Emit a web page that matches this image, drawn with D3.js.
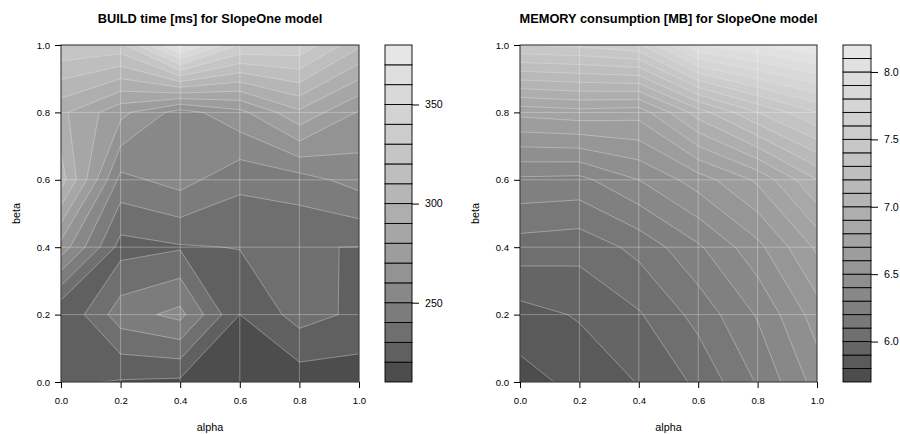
<!DOCTYPE html>
<html><head><meta charset="utf-8">
<script src="https://cdn.jsdelivr.net/npm/d3@7"></script>
<style>
body{margin:0;background:#fff}
svg{display:block}
text{font-family:"Liberation Sans",Arial,Helvetica,sans-serif;fill:#000}
</style>
</head><body>
<svg id="chart" width="900" height="434"></svg>
<script>
// ---- data ----
const alphaVals = [0, 0.2, 0.4, 0.6, 0.8, 1.0];
const betaVals  = [0, 0.2, 0.4, 0.6, 0.8, 1.0];
const axisTicks = [0, 0.2, 0.4, 0.6, 0.8, 1.0];

// BUILD time [ms]; one row per beta (0 -> 1), columns alpha (0 -> 1)
const buildRow0 = [222.0, 219.1, 218.0, 213.0, 214.1, 214.4];
const buildRow1 = [220.2, 245.4, 253.0, 220.0, 234.1, 227.8];
const buildRow2 = [266.0, 226.2, 229.0, 230.4, 230.4, 229.8];
const buildRow3 = [305.0, 247.0, 254.0, 242.7, 245.8, 254.0];
const buildRow4 = [292.4, 273.0, 255.6, 267.0, 288.0, 269.0];
const buildRow5 = [328.6, 327.0, 375.0, 340.0, 338.0, 312.0];
const buildLevels = [210,220,230,240,250,260,270,280,290,300,310,320,330,340,350,360,370,380];
const buildTicks = [250, 300, 350];

// MEMORY consumption [MB]
const memRow0 = [5.76, 5.83, 5.905, 6.02, 6.21, 6.44];
const memRow1 = [5.86, 5.91, 5.99, 6.135, 6.31, 6.55];
const memRow2 = [6.054, 6.035, 6.13, 6.284, 6.47, 6.72];
const memRow3 = [6.28, 6.27, 6.40, 6.55, 6.72, 7.0];
const memRow4 = [6.73, 6.76, 6.74, 7.05, 7.3, 7.5];
const memRow5 = [7.5, 7.52, 7.58, 8.0, 8.1, 8.2];
const memLevels = [5.7,5.8,5.9,6.0,6.1,6.2,6.3,6.4,6.5,6.6,6.7,6.8,6.9,7.0,7.1,7.2,7.3,7.4,7.5,7.6,7.7,7.8,7.9,8.0,8.1,8.2];
const memTicks = [6.0, 6.5, 7.0, 7.5, 8.0];

// R's gray.colors(n, start=0.3, end=0.9, gamma=2.2)
function grayColors(n){
  const s = Math.pow(0.3, 2.2), e = Math.pow(0.9, 2.2);
  return d3.range(n).map(i => {
    const g = Math.round(255 * Math.pow(s + (e - s) * i / (n - 1), 1 / 2.2));
    return d3.rgb(g, g, g).formatHex();
  });
}

const svg = d3.select("#chart");

function panel(cfg){
  const {x0, x1, y0, y1, rows, levels, cbTicks, cbx0, cbx1, title, cbFmt, id} = cfg;
  const n = alphaVals.length, m = betaVals.length;
  const xS = d3.scaleLinear().domain([0, 1]).range([x0, x1]);
  const yS = d3.scaleLinear().domain([0, 1]).range([y1, y0]);
  const gridX = d3.scaleLinear().domain([0.5, n - 0.5]).range([xS(alphaVals[0]), xS(alphaVals[n - 1])]);
  const gridY = d3.scaleLinear().domain([0.5, m - 0.5]).range([yS(betaVals[0]), yS(betaVals[m - 1])]);
  const flat = [];
  rows.forEach(r => r.forEach(v => flat.push(v)));
  const cols = grayColors(levels.length - 1);
  const conts = d3.contours().size([n, m]).thresholds(levels.slice(0, -1))(flat);
  const proj = d3.geoTransform({point(x, y){ this.stream.point(gridX(x), gridY(y)); }});
  const path = d3.geoPath(proj);

  svg.append("clipPath").attr("id", id).append("rect")
    .attr("x", x0).attr("y", y0).attr("width", x1 - x0).attr("height", y1 - y0);
  const g = svg.append("g").attr("clip-path", `url(#${id})`);
  g.append("rect").attr("x", x0).attr("y", y0).attr("width", x1 - x0).attr("height", y1 - y0).attr("fill", cols[0]);
  g.selectAll("path.fill").data(conts).join("path").attr("class", "fill")
    .attr("d", path).attr("fill", (d, i) => cols[i]).attr("fill-rule", "evenodd").attr("stroke", "none");
  // grid
  g.selectAll("line.gx").data(axisTicks).join("line").attr("class", "gx")
    .attr("x1", d => xS(d)).attr("x2", d => xS(d)).attr("y1", y0).attr("y2", y1)
    .attr("stroke", "#ffffff").attr("stroke-opacity", 0.3).attr("stroke-width", 1);
  g.selectAll("line.gy").data(axisTicks).join("line").attr("class", "gy")
    .attr("y1", d => yS(d)).attr("y2", d => yS(d)).attr("x1", x0).attr("x2", x1)
    .attr("stroke", "#ffffff").attr("stroke-opacity", 0.3).attr("stroke-width", 1);
  // contour lines
  g.selectAll("path.line").data(conts.slice(1)).join("path").attr("class", "line")
    .attr("d", path).attr("fill", "none").attr("stroke", "#e8e8e8").attr("stroke-opacity", 0.55).attr("stroke-width", 0.7);

  // frame
  svg.append("rect").attr("x", x0).attr("y", y0).attr("width", x1 - x0).attr("height", y1 - y0)
    .attr("fill", "none").attr("stroke", "#222").attr("stroke-width", 1);

  // axes
  const fmt = d3.format(".1f");
  const ax = svg.append("g").attr("transform", `translate(0,${y1})`)
    .call(d3.axisBottom(xS).tickValues(axisTicks).tickFormat(fmt).tickSize(6).tickPadding(9));
  const ay = svg.append("g").attr("transform", `translate(${x0},0)`)
    .call(d3.axisLeft(yS).tickValues(axisTicks).tickFormat(fmt).tickSize(6).tickPadding(5));
  [ax, ay].forEach(a => {
    a.select(".domain").remove();
    a.selectAll("line").attr("stroke", "#000");
    a.selectAll("text").attr("font-size", "9.6px").attr("font-family", null).attr("fill", "#000");
  });

  // labels
  svg.append("text").attr("x", (x0 + x1) / 2).attr("y", 431).attr("text-anchor", "middle")
    .attr("font-size", "10.8px").text("alpha");
  svg.append("text").attr("transform", `translate(${x0 - 41},${(y0 + y1) / 2}) rotate(-90)`)
    .attr("text-anchor", "middle").attr("font-size", "10.8px").text("beta");
  svg.append("text").attr("x", (x0 + x1) / 2).attr("y", 23).attr("text-anchor", "middle")
    .attr("font-size", "12.8px").attr("font-weight", "bold").text(title);

  // colorbar
  const cS = d3.scaleLinear().domain([levels[0], levels[levels.length - 1]]).range([y1, y0]);
  const bins = levels.slice(0, -1).map((v, i) => ({lo: v, hi: levels[i + 1], c: cols[i]}));
  const cb = svg.append("g");
  cb.selectAll("rect").data(bins).join("rect")
    .attr("x", cbx0).attr("width", cbx1 - cbx0)
    .attr("y", d => cS(d.hi)).attr("height", d => cS(d.lo) - cS(d.hi))
    .attr("fill", d => d.c).attr("stroke", "#000").attr("stroke-width", 0.9);
  const ca = svg.append("g").attr("transform", `translate(${cbx1},0)`)
    .call(d3.axisRight(cS).tickValues(cbTicks).tickFormat(cbFmt).tickSize(7).tickPadding(6));
  ca.select(".domain").remove();
  ca.selectAll("line").attr("stroke", "#000");
  ca.selectAll("text").attr("font-size", "10.6px").attr("font-family", null).attr("fill", "#000");
}

panel({id: "clipL", x0: 61, x1: 359, y0: 45, y1: 382,
  rows: [buildRow0, buildRow1, buildRow2, buildRow3, buildRow4, buildRow5],
  levels: buildLevels, cbTicks: buildTicks, cbx0: 385, cbx1: 412, cbFmt: d3.format("d"),
  title: "BUILD time [ms] for SlopeOne model"});
panel({id: "clipR", x0: 520, x1: 817, y0: 45, y1: 382,
  rows: [memRow0, memRow1, memRow2, memRow3, memRow4, memRow5],
  levels: memLevels, cbTicks: memTicks, cbx0: 843, cbx1: 871, cbFmt: d3.format(".1f"),
  title: "MEMORY consumption [MB] for SlopeOne model"});
</script>
</body></html>
